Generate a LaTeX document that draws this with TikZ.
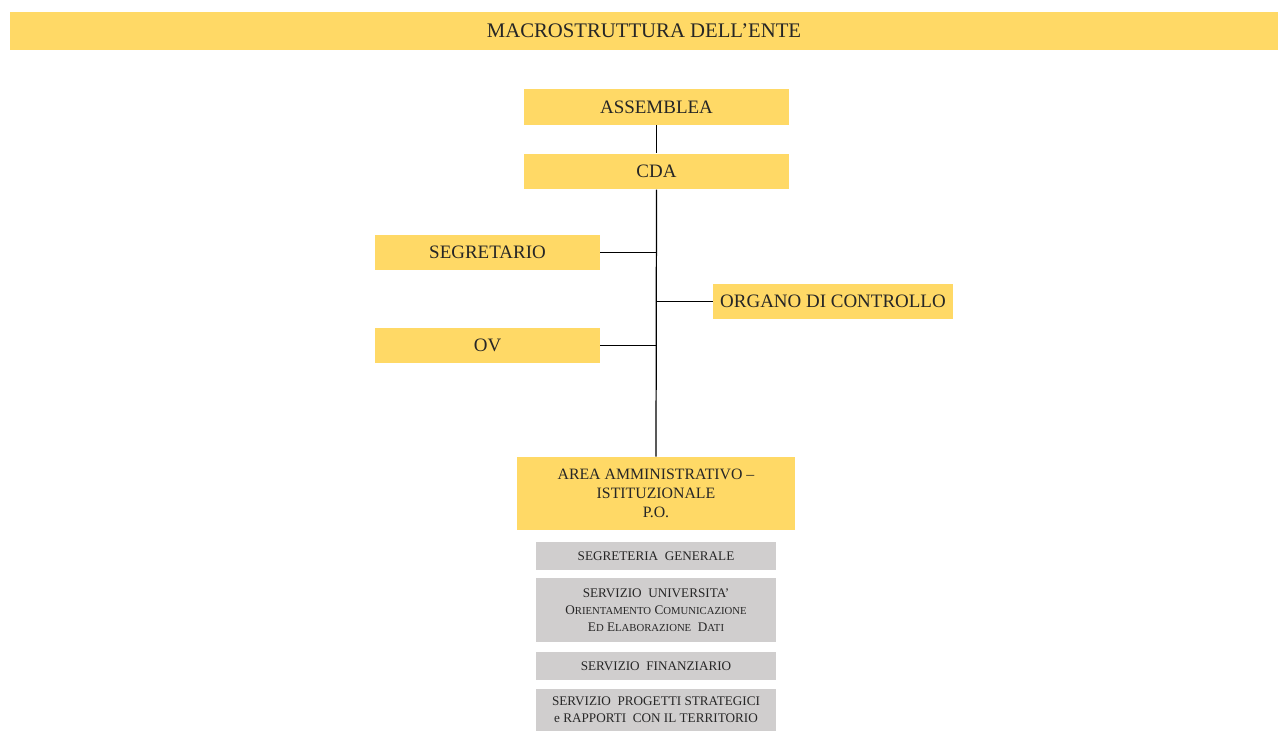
\documentclass[tikz,border=0pt]{standalone}
\usepackage{fontspec}
\setmainfont{Liberation Serif}
\definecolor{Giallo}{HTML}{FFD966}
\definecolor{Grigio}{HTML}{D0CECE}
\definecolor{Testo}{HTML}{262626}
\newcommand{\pc}[2]{#1{\fontsize{6.1}{7}\selectfont #2}}

\begin{document}
\begin{tikzpicture}[x=0.02cm,y=-0.02cm,
  box/.style={fill=Giallo,inner sep=0pt,text=Testo,align=center,
    font=\fontsize{10.8}{13}\selectfont},
  subbox/.style={fill=Grigio,inner sep=0pt,text=Testo,align=center,
    minimum width=4.8cm,font=\fontsize{7.5}{9.6}\selectfont},
  link/.style={draw=black,line width=0.7pt}]
\useasboundingbox (0,0) rectangle (1284,731);
% Title
\node [box,minimum width=25.36cm,minimum height=0.76cm,font=\fontsize{11.8}{14}\selectfont] (title) at (644,31) {MACROSTRUTTURA DELL'ENTE};
% Top
\node [box,minimum width=5.3cm,minimum height=0.72cm] (assemblea) at (656.5,107) {ASSEMBLEA};
\node [box,minimum width=5.3cm,minimum height=0.71cm] (cda) at (656.5,171.5) {CDA};
% Staff
\node [box,minimum width=4.5cm,minimum height=0.7cm] (segretario) at (487.5,252.5) {SEGRETARIO};
\node [box,minimum width=4.8cm,minimum height=0.7cm] (organo) at (833,301.5) {ORGANO DI CONTROLLO};
\node [box,minimum width=4.5cm,minimum height=0.7cm] (ov) at (487.5,345.5) {OV};
% Area
\node [box,minimum width=5.56cm,minimum height=1.46cm,font=\fontsize{9}{10.8}\selectfont] (area) at (656,493.5) {AREA AMMINISTRATIVO --\\ISTITUZIONALE\\P.O.};
% Services
\node [subbox,minimum height=0.56cm] (segreteria) at (656,556) {SEGRETERIA\ \ GENERALE};
\node [subbox,minimum height=1.28cm] (universita) at (656,610) {SERVIZIO\ \ UNIVERSITA'\\\pc{O}{RIENTAMENTO} \pc{C}{OMUNICAZIONE}\\\pc{E}{D} \pc{E}{LABORAZIONE}\ \ \pc{D}{ATI}};
\node [subbox,minimum height=0.56cm] (finanziario) at (656,666) {SERVIZIO\ \ FINANZIARIO};
\node [subbox,minimum height=0.84cm] (progetti) at (656,710) {SERVIZIO\ \ PROGETTI STRATEGICI\\e RAPPORTI\ \ CON IL TERRITORIO};
% Links
\draw [link] (assemblea.south) -- (cda.north);
\draw [link] (cda.south) -- (area.north);
\draw [link] (segretario.east) -- (segretario.east -| cda.south);
\draw [link] (ov.east) -- (ov.east -| cda.south);
\draw [link] (organo.west) -- (organo.west -| cda.south);
\end{tikzpicture}
\end{document}
